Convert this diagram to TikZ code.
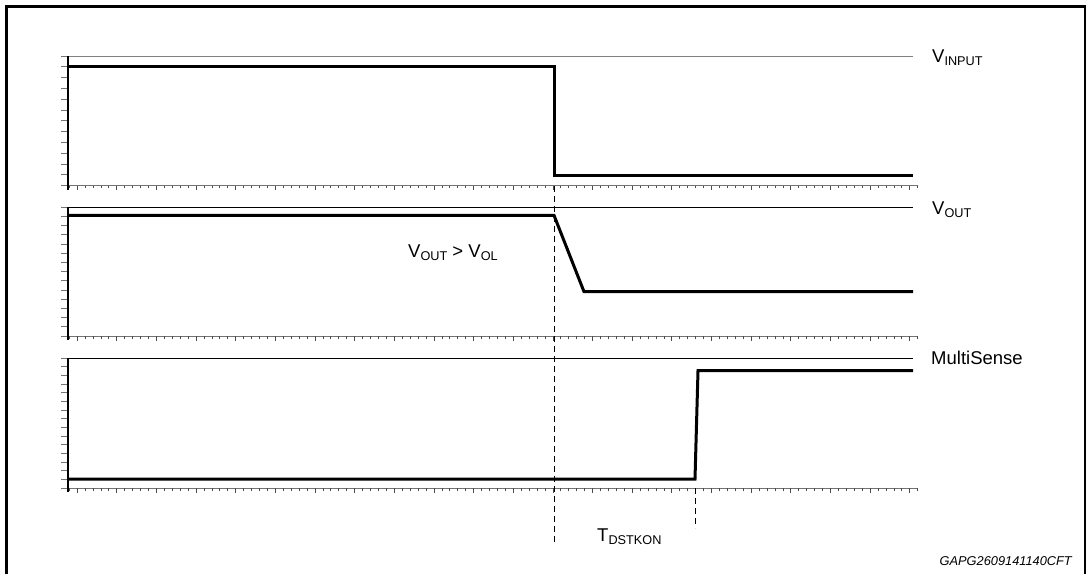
\documentclass[tikz,border=0pt]{standalone}
\usepackage{fontspec}
\setmainfont{Liberation Sans}
\tikzset{signal/.style={line width=3pt, line join=miter}}
\tikzset{guide/.style={line width=0.8pt, dash pattern=on 6pt off 4pt}}
\tikzset{siglabel/.style={anchor=base west, inner sep=0pt, font=\fontsize{18.5}{22}\selectfont}}
\tikzset{tickmark/.style={line width=1pt, black!55}}
\newcommand{\vsub}[2]{#1\raisebox{-3pt}{\fontsize{12.7}{15}\selectfont #2}}
\newcommand{\drawpanel}[4]{%
  \draw[#4, line width=1pt] (61,#1) -- (913,#1);
  \foreach \i in {0,...,#3}
    \draw[tickmark] (61,{#1+\i*(#2-#1)/#3}) -- (68,{#1+\i*(#2-#1)/#3});
  \draw[tickmark] (61,#2) -- (918,#2);
  \foreach \k in {0,...,107}{
    \pgfmathsetmacro\tl{mod(\k,5)==1 ? 4.5 : 2.5}
    \draw[line width=1pt, black!70] ({69.3+7.93*\k},#2) -- ++(0,\tl);
  }
  \draw[line width=1.2pt] (68,#1) -- (68,#2+4);
}

\begin{document}
\begin{tikzpicture}[x=1pt, y=-1pt]
      \useasboundingbox (0,0) rectangle (1087,574);
      \draw[line width=2.5pt] (6.5,574) -- (6.5,6.5) -- (1085,6.5) -- (1085,574);

      % panels
      \drawpanel{56}{185.7}{12}{black!50}
      \drawpanel{207.3}{336}{14}{black}
      \drawpanel{358}{488}{15}{black}

      % time markers
      \draw[guide] (554,185.7) -- (554,545);
      \draw[guide] (695,488) -- (695,528);

      % signals
      \draw[signal] (68,66) -- (554,66) -- (554,175) -- (913,175);
      \draw[signal] (68,215.3) -- (554,215.3) -- (584,291.7) -- (913,291.7);
      \draw[signal] (68,479) -- (695,479) -- (698,370.7) -- (913,370.7);

      \node[siglabel] (vin) at (932,62) {\vsub{V}{INPUT}};
      \node[siglabel] (vout) at (932,214) {\vsub{V}{OUT}};
      \node[siglabel] (ms) at (931,364.5) {MultiSense};
      \node[siglabel] (cond) at (408,257) {\vsub{V}{OUT} > \vsub{V}{OL}};
      \node[siglabel] (tdst) at (597,541) {\vsub{T}{DSTKON}};
      \node[anchor=base east, inner sep=0pt, font=\fontsize{12.8}{15}\selectfont\itshape] (code) at (1072,565) {GAPG2609141140CFT};
    \end{tikzpicture}
\end{document}
